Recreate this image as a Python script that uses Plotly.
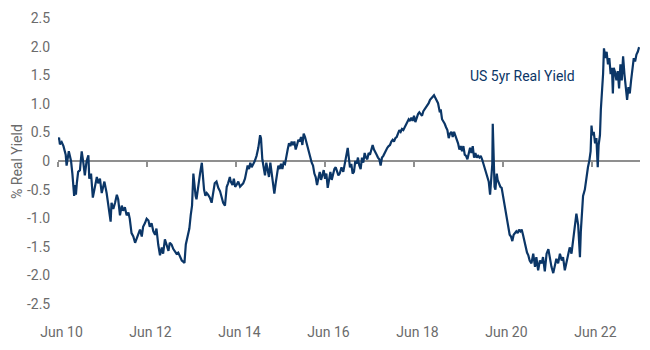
import plotly.graph_objects as go

# Decimal-year dates
years = [
    2010.42, 2010.44, 2010.46, 2010.50, 2010.54, 2010.56, 2010.59, 2010.61, 2010.64, 2010.66,
    2010.69, 2010.71, 2010.74, 2010.76, 2010.78, 2010.80, 2010.82, 2010.84, 2010.87, 2010.91,
    2010.95, 2010.99, 2011.02, 2011.06, 2011.10, 2011.12, 2011.16, 2011.20, 2011.23, 2011.29,
    2011.32, 2011.36, 2011.40, 2011.46, 2011.51, 2011.55, 2011.60, 2011.62, 2011.66, 2011.70,
    2011.74, 2011.77, 2011.81, 2011.85, 2011.88, 2011.92, 2011.96, 2012.00, 2012.03, 2012.07,
    2012.11, 2012.15, 2012.19, 2012.22, 2012.26, 2012.30, 2012.33, 2012.37, 2012.41, 2012.45,
    2012.48, 2012.52, 2012.56, 2012.60, 2012.63, 2012.67, 2012.71, 2012.75, 2012.78, 2012.82,
    2012.86, 2012.90, 2012.93, 2012.97, 2013.01, 2013.05, 2013.08, 2013.12, 2013.16, 2013.20,
    2013.23, 2013.26, 2013.29, 2013.32, 2013.37, 2013.40, 2013.43, 2013.46, 2013.48, 2013.51,
    2013.53, 2013.57, 2013.61, 2013.65, 2013.67, 2013.70, 2013.73, 2013.76, 2013.79, 2013.83,
    2013.87, 2013.91, 2013.94, 2013.98, 2014.02, 2014.06, 2014.10, 2014.13, 2014.17, 2014.21,
    2014.24, 2014.28, 2014.30, 2014.34, 2014.37, 2014.40, 2014.43, 2014.47, 2014.51, 2014.55,
    2014.58, 2014.62, 2014.68, 2014.71, 2014.74, 2014.77, 2014.81, 2014.84, 2014.88, 2014.92,
    2014.96, 2014.98, 2015.01, 2015.04, 2015.07, 2015.10, 2015.13, 2015.16, 2015.19, 2015.22,
    2015.25, 2015.28, 2015.31, 2015.34, 2015.37, 2015.40, 2015.43, 2015.46, 2015.49, 2015.52,
    2015.55, 2015.58, 2015.61, 2015.64, 2015.67, 2015.70, 2015.73, 2015.76, 2015.79, 2015.82,
    2015.85, 2015.88, 2015.91, 2015.94, 2015.97, 2016.00, 2016.03, 2016.06, 2016.09, 2016.12,
    2016.15, 2016.18, 2016.21, 2016.24, 2016.27, 2016.30, 2016.33, 2016.36, 2016.39, 2016.42,
    2016.45, 2016.48, 2016.51, 2016.54, 2016.57, 2016.60, 2016.63, 2016.66, 2016.69, 2016.72,
    2016.75, 2016.79, 2016.83, 2016.87, 2016.91, 2016.93, 2016.95, 2016.98, 2017.01, 2017.04,
    2017.07, 2017.10, 2017.13, 2017.16, 2017.19, 2017.22, 2017.25, 2017.28, 2017.31, 2017.34,
    2017.37, 2017.40, 2017.43, 2017.46, 2017.49, 2017.52, 2017.55, 2017.58, 2017.61, 2017.64,
    2017.67, 2017.70, 2017.73, 2017.76, 2017.79, 2017.82, 2017.85, 2017.88, 2017.91, 2017.94,
    2017.97, 2018.00, 2018.03, 2018.06, 2018.09, 2018.12, 2018.15, 2018.18, 2018.21, 2018.24,
    2018.27, 2018.30, 2018.33, 2018.36, 2018.39, 2018.42, 2018.45, 2018.48, 2018.51, 2018.54,
    2018.57, 2018.60, 2018.63, 2018.66, 2018.69, 2018.72, 2018.75, 2018.78, 2018.81, 2018.84,
    2018.87, 2018.89, 2018.93, 2018.96, 2019.00, 2019.02, 2019.05, 2019.08, 2019.11, 2019.14,
    2019.17, 2019.20, 2019.23, 2019.26, 2019.29, 2019.32, 2019.35, 2019.38, 2019.41, 2019.44,
    2019.47, 2019.50, 2019.53, 2019.56, 2019.59, 2019.62, 2019.65, 2019.68, 2019.71, 2019.74,
    2019.77, 2019.80, 2019.83, 2019.86, 2019.89, 2019.92, 2019.95, 2019.98, 2020.01, 2020.04,
    2020.07, 2020.10, 2020.13, 2020.15, 2020.18, 2020.19, 2020.21, 2020.23, 2020.25, 2020.28,
    2020.30, 2020.33, 2020.36, 2020.39, 2020.42, 2020.45, 2020.48, 2020.51, 2020.54, 2020.57,
    2020.60, 2020.63, 2020.66, 2020.69, 2020.72, 2020.75, 2020.78, 2020.81, 2020.84, 2020.87,
    2020.90, 2020.93, 2020.96, 2020.99, 2021.02, 2021.06, 2021.10, 2021.14, 2021.17, 2021.21,
    2021.25, 2021.29, 2021.32, 2021.36, 2021.40, 2021.44, 2021.47, 2021.51, 2021.55, 2021.59,
    2021.62, 2021.66, 2021.70, 2021.74, 2021.77, 2021.81, 2021.85, 2021.88, 2021.92, 2021.96,
    2022.00, 2022.03, 2022.07, 2022.11, 2022.15, 2022.17, 2022.20, 2022.22, 2022.26, 2022.30,
    2022.33, 2022.36, 2022.39, 2022.41, 2022.43, 2022.46, 2022.49, 2022.52, 2022.55, 2022.57,
    2022.60, 2022.62, 2022.64, 2022.67, 2022.69, 2022.72, 2022.75, 2022.78, 2022.81, 2022.84,
    2022.87, 2022.89, 2022.91, 2022.94, 2022.97, 2023.00, 2023.03, 2023.06, 2023.09, 2023.12,
    2023.15, 2023.18, 2023.21, 2023.24, 2023.27, 2023.30, 2023.33, 2023.36, 2023.39, 2023.42,
    2023.45, 2023.48,
]

# US 5yr real yield, %
real_yield = [
    0.37, 0.41, 0.29, 0.33, 0.26, 0.17, 0.11, -0.08, 0.14, 0.17,
    0.07, 0.00, -0.22, -0.47, -0.61, -0.42, -0.59, -0.39, -0.19, -0.16,
    0.17, -0.05, -0.25, 0.00, 0.10, -0.31, -0.22, -0.64, -0.50, -0.28,
    -0.39, -0.31, -0.56, -0.36, -0.56, -0.78, -1.06, -0.73, -0.84, -0.73,
    -0.59, -0.67, -0.95, -0.78, -0.87, -0.81, -0.95, -0.90, -1.01, -1.26,
    -1.32, -1.43, -1.34, -1.26, -1.20, -1.32, -1.15, -1.09, -1.01, -1.04,
    -1.15, -1.09, -1.23, -1.29, -1.18, -1.46, -1.65, -1.51, -1.62, -1.37,
    -1.46, -1.57, -1.43, -1.46, -1.54, -1.60, -1.62, -1.60, -1.68, -1.74,
    -1.76, -1.78, -1.46, -1.34, -1.18, -0.95, -0.78, -0.22, -0.39, -0.61,
    -0.67, -0.39, -0.22, -0.03, -0.22, -0.50, -0.61, -0.56, -0.59, -0.64,
    -0.73, -0.56, -0.39, -0.36, -0.47, -0.53, -0.67, -0.73, -0.78, -0.45,
    -0.39, -0.28, -0.36, -0.42, -0.31, -0.45, -0.42, -0.36, -0.45, -0.42,
    -0.39, -0.31, -0.08, -0.14, -0.03, -0.11, -0.05, 0.00, 0.09, 0.23,
    0.45, 0.40, 0.03, -0.11, -0.25, -0.03, -0.16, -0.28, -0.03, -0.22,
    -0.45, -0.57, -0.39, -0.22, -0.08, -0.14, -0.05, -0.14, -0.03, -0.05,
    0.11, 0.20, 0.31, 0.26, 0.34, 0.28, 0.34, 0.20, 0.28, 0.37,
    0.34, 0.42, 0.28, 0.48, 0.42, 0.34, 0.23, 0.17, 0.06, -0.03,
    -0.08, -0.22, -0.28, -0.42, -0.28, -0.19, -0.33, -0.22, -0.16, -0.31,
    -0.22, -0.47, -0.31, -0.19, -0.33, -0.22, -0.14, -0.11, -0.19, -0.25,
    -0.22, -0.11, -0.19, -0.03, 0.11, 0.23, 0.09, -0.11, -0.05, -0.22,
    -0.19, 0.00, -0.05, 0.06, -0.08, -0.14, 0.06, -0.03, 0.14, 0.06,
    0.03, 0.14, 0.11, 0.20, 0.28, 0.20, 0.14, 0.11, 0.06, 0.03,
    -0.08, 0.06, 0.09, 0.14, 0.20, 0.23, 0.26, 0.28, 0.34, 0.37,
    0.34, 0.40, 0.42, 0.48, 0.54, 0.51, 0.56, 0.54, 0.59, 0.62,
    0.68, 0.73, 0.70, 0.76, 0.70, 0.79, 0.68, 0.76, 0.82, 0.85,
    0.82, 0.79, 0.87, 0.90, 0.93, 0.96, 1.01, 1.07, 1.10, 1.12,
    1.15, 1.12, 1.07, 1.01, 0.85, 0.90, 0.73, 0.70, 0.65, 0.59,
    0.54, 0.40, 0.48, 0.51, 0.42, 0.51, 0.45, 0.40, 0.31, 0.20,
    0.26, 0.17, 0.26, 0.11, 0.09, 0.03, 0.11, 0.23, 0.14, 0.26,
    0.06, 0.14, 0.06, 0.09, 0.06, 0.09, 0.03, -0.05, -0.11, -0.19,
    -0.28, -0.36, -0.59, -0.33, -0.05, 0.65, -0.16, -0.45, -0.50, -0.22,
    -0.33, -0.39, -0.45, -0.47, -0.61, -0.78, -0.95, -1.06, -1.18, -1.29,
    -1.32, -1.40, -1.29, -1.26, -1.23, -1.26, -1.20, -1.23, -1.20, -1.29,
    -1.40, -1.51, -1.60, -1.65, -1.74, -1.79, -1.62, -1.85, -1.68, -1.91,
    -1.74, -1.79, -1.68, -1.93, -1.62, -1.54, -1.68, -1.85, -1.96, -1.79,
    -1.71, -1.79, -1.62, -1.74, -1.68, -1.91, -1.76, -1.62, -1.51, -1.62,
    -1.34, -1.12, -0.92, -1.12, -1.68, -1.23, -0.78, -0.61, -0.50, -0.22,
    -0.11, 0.00, 0.17, 0.62, 0.45, 0.51, 0.31, 0.40, -0.11, 0.28,
    0.45, 0.90, 1.12, 1.52, 1.97, 1.80, 1.91, 1.69, 1.80, 1.52,
    1.63, 1.18, 1.63, 1.55, 1.41, 1.57, 1.27, 1.69, 1.41, 1.83,
    1.52, 1.24, 1.07, 1.29, 1.18, 1.41, 1.63, 1.80, 1.74, 1.86,
    1.91, 1.99,
]

tick_years = [2010.417, 2012.417, 2014.417, 2016.417, 2018.417, 2020.417, 2022.417]
label_years = [2010.497, 2012.497, 2014.497, 2016.497, 2018.497, 2020.497, 2022.497]
tick_labels = ["Jun 10", "Jun 12", "Jun 14", "Jun 16", "Jun 18", "Jun 20", "Jun 22"]
y_ticks = [-2.5, -2.0, -1.5, -1.0, -0.5, 0, 0.5, 1.0, 1.5, 2.0, 2.5]
y_tick_labels = ["-2.5", "-2.0", "-1.5", "-1.0", "-0.5", "0", "0.5", "1.0", "1.5", "2.0", "2.5"]

NAVY = "#0b3667"
GREY_TXT = "#6b6b6b"
AXIS_GREY = "#8f8f8f"
FONT = "Roboto"

fig = go.Figure()
fig.add_trace(go.Scatter(
    x=years, y=real_yield, mode="lines",
    line=dict(color=NAVY, width=2.2),
    hoverinfo="skip", showlegend=False,
))

x_range = [2010.417, 2023.50]

fig.update_layout(
    width=650, height=350,
    margin=dict(l=58, r=10, t=15, b=38),
    paper_bgcolor="white", plot_bgcolor="white",
    font=dict(family=FONT, size=14, color=GREY_TXT),
    xaxis=dict(
        range=x_range, tickvals=label_years, ticktext=tick_labels,
        showgrid=False, zeroline=False, showline=False,
        ticks="outside", ticklen=15, tickcolor="rgba(0,0,0,0)",
        tickfont=dict(family=FONT, size=14, color=GREY_TXT),
    ),
    xaxis2=dict(
        range=x_range, overlaying="x", anchor="free", position=0.5,
        side="bottom", tickvals=tick_years, showticklabels=False,
        showgrid=False, zeroline=False,
        showline=True, linecolor=AXIS_GREY, linewidth=2,
        ticks="outside", ticklen=5, tickwidth=2, tickcolor=AXIS_GREY,
        layer="below traces",
    ),
    yaxis=dict(
        range=[-2.5, 2.5], tickvals=y_ticks, ticktext=y_tick_labels,
        showgrid=False, zeroline=False, showline=False,
        ticks="outside", ticklen=4, tickcolor="rgba(0,0,0,0)",
        tickfont=dict(family=FONT, size=14, color=GREY_TXT),
    ),
)

# invisible trace to activate xaxis2 (the zero axis with its tick marks)
fig.add_trace(go.Scatter(x=[x_range[0]], y=[0], xaxis="x2", mode="markers",
                         marker=dict(opacity=0), hoverinfo="skip", showlegend=False))

fig.add_annotation(
    text="% Real Yield", textangle=-90, xref="paper", yref="paper",
    x=-0.0705, y=0.5, xanchor="center", yanchor="middle", showarrow=False,
    font=dict(family=FONT, size=14, color=GREY_TXT),
)
fig.add_annotation(
    text="US 5yr Real Yield", xref="x", yref="y",
    x=2020.855, y=1.49, xanchor="center", yanchor="middle", showarrow=False,
    font=dict(family=FONT, size=14, color=NAVY),
)

fig.write_html("out.html")
